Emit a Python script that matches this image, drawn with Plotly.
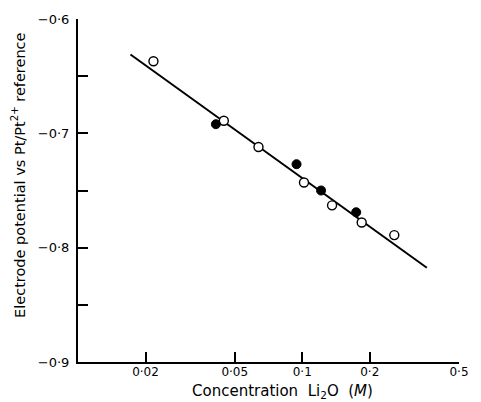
import plotly.graph_objects as go

# Li2O concentration (M) and electrode potential (V) — open circles
open_conc = [0.0217, 0.0447, 0.0638, 0.1018, 0.1358, 0.1841, 0.2573]
open_pot = [-0.637, -0.689, -0.712, -0.743, -0.763, -0.778, -0.789]

# second series — filled circles
filled_conc = [0.0412, 0.0943, 0.1213, 0.1740]
filled_pot = [-0.692, -0.727, -0.750, -0.769]

# fitted straight line (end points)
fit_conc = [0.01714, 0.3594]
fit_pot = [-0.631, -0.8176]

x_tick_vals = [0.02, 0.05, 0.1, 0.2, 0.5]
x_tick_text = ["0·02", "0·05", "0·1", "0·2", "0·5"]
y_tick_vals = [-0.9, -0.8, -0.7, -0.6]
y_tick_text = ["−0·9", "−0·8", "−0·7", "−0·6"]
y_minor_vals = [-0.85, -0.75, -0.65]

FONT = "DejaVu Sans"

fig = go.Figure()
fig.add_trace(go.Scatter(
    x=fit_conc, y=fit_pot, mode="lines",
    line=dict(color="black", width=2), showlegend=False, hoverinfo="skip"))
fig.add_trace(go.Scatter(
    x=open_conc, y=open_pot, mode="markers",
    marker=dict(symbol="circle", size=9, color="white",
                line=dict(color="black", width=1.4)),
    showlegend=False))
fig.add_trace(go.Scatter(
    x=filled_conc, y=filled_pot, mode="markers",
    marker=dict(symbol="circle", size=9, color="black",
                line=dict(color="black", width=1)),
    showlegend=False))

fig.update_xaxes(
    type="log", range=[-2, -0.301],
    showgrid=False, zeroline=False,
    showline=True, linecolor="black", linewidth=2,
    tickmode="array", tickvals=x_tick_vals, ticktext=x_tick_text,
    ticks="inside", ticklen=10, tickwidth=1.5, tickcolor="black",
    tickfont=dict(family=FONT, size=12, color="black"),
    ticklabelstandoff=-2,
)
fig.update_yaxes(
    range=[-0.9, -0.6],
    showgrid=False, zeroline=False,
    showline=True, linecolor="black", linewidth=2,
    tickmode="array", tickvals=y_tick_vals, ticktext=y_tick_text,
    ticks="inside", ticklen=10, tickwidth=1.5, tickcolor="black",
    tickfont=dict(family=FONT, size=13, color="black"),
    ticklabelstandoff=4,
    minor=dict(tickvals=y_minor_vals, ticks="inside", ticklen=10,
               tickwidth=1.5, tickcolor="black"),
)

fig.add_annotation(
    text="Concentration  Li<sub>2</sub>O  (<i>M</i>)",
    xref="paper", yref="paper", x=0.537, y=-0.085,
    xanchor="center", yanchor="middle", showarrow=False,
    font=dict(family=FONT, size=15, color="black"))
fig.add_annotation(
    text="Electrode potential vs Pt/Pt<sup>2+</sup> reference",
    xref="paper", yref="paper", x=-0.157, y=0.543,
    xanchor="center", yanchor="middle", textangle=-90, showarrow=False,
    font=dict(family=FONT, size=14.5, color="black"))

fig.update_layout(
    width=481, height=402,
    margin=dict(l=78, r=13, t=15, b=40),
    paper_bgcolor="white", plot_bgcolor="white",
)

fig.write_html("out.html")
